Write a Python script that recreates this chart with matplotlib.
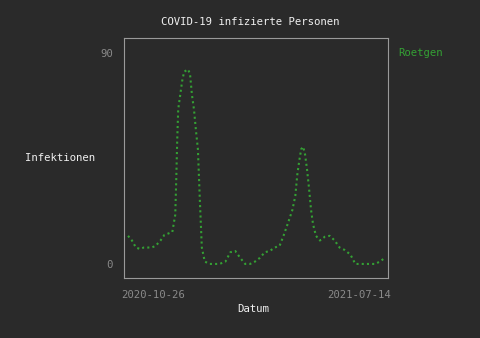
import matplotlib
matplotlib.use("Agg")
import matplotlib.pyplot as plt

# days since 2020-10-26 and infected persons
days = [0, 4, 8, 12, 16, 20, 24, 28, 33, 37, 41, 45, 48, 49, 50, 51, 53, 55, 57, 61,
        63, 65, 67, 69, 71, 73, 75, 78, 83, 88, 93, 99, 104, 109, 114, 119, 124, 129,
        134, 139, 144, 149, 154, 158, 163, 167, 170, 172, 174, 176, 178, 180, 182, 184,
        186, 188, 191, 195, 200, 205, 210, 215, 220, 226, 231, 236, 241, 246, 251, 256, 261]
cases = [12, 10, 7, 6.4, 7, 7, 7, 7.7, 10, 12.4, 13, 13.6, 21, 36, 53, 66, 72, 78, 82, 83,
         81, 72, 66, 57, 49, 27, 7, 1, 0, 0, 0, 1, 5, 5.5, 2.6, 0, 0, 1,
         2.6, 5, 5.5, 7, 7.7, 12, 18, 23, 29, 38, 44, 49, 50, 46.5, 40, 32,
         23, 17, 12, 10, 11.6, 12, 10, 7, 6, 4, 0, 0, 0, 0, 0, 1, 2.6]
xtick_pos = [25, 235]
xtick_labels = ["2020-10-26", "2021-07-14"]
ytick_pos = [0, 90]

bg = "#2a2a2a"
green = "#34a034"
mono = "DejaVu Sans Mono"

fig = plt.figure(figsize=(4.8, 3.38), dpi=100, facecolor=bg)
ax = fig.add_axes([124 / 480, 60 / 338, 264 / 480, 240 / 338], facecolor=bg)

ax.plot(days, cases, color=green, lw=1.5, linestyle=(0, (1, 1.5)))

ax.set_xlim(-4.1, 264.2)
ax.set_ylim(-6, 96.4)
ax.set_xticks(xtick_pos)
ax.set_xticklabels(xtick_labels)
ax.set_yticks(ytick_pos)
ax.set_yticklabels([str(v) for v in ytick_pos])
ax.tick_params(length=0, colors="#8a8a8a", labelsize=7.7)
ax.tick_params(axis="x", pad=9)
ax.tick_params(axis="y", pad=8)
for lab in ax.get_xticklabels() + ax.get_yticklabels():
    lab.set_family(mono)
for sp in ax.spines.values():
    sp.set_color("#9a9a9a")
    sp.set_linewidth(0.8)

fig.text(250 / 480, 1 - 22 / 338, "COVID-19 infizierte Personen", color="#f0f0f0",
         family=mono, fontsize=7.7, ha="center", va="center")
fig.text(60 / 480, 1 - 158 / 338, "Infektionen", color="#f0f0f0",
         family=mono, fontsize=7.7, ha="center", va="center")
fig.text(253 / 480, 1 - 309 / 338, "Datum", color="#f0f0f0",
         family=mono, fontsize=7.7, ha="center", va="center")
fig.text(398 / 480, 1 - 53 / 338, "Roetgen", color=green,
         family=mono, fontsize=7.7, ha="left", va="center")

fig.savefig("out.png", dpi=100, facecolor=bg)
